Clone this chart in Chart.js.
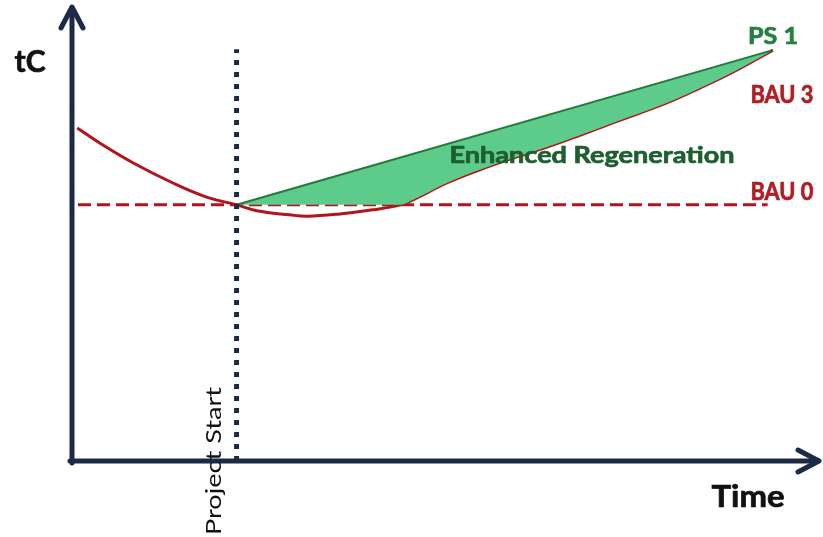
<!DOCTYPE html>
<html>
<head>
<meta charset="utf-8">
<script src="https://cdn.jsdelivr.net/npm/chart.js@4/dist/chart.umd.min.js"></script>
<style>
	html, body { margin: 0; padding: 0; background: #fff; }
	canvas { display: block; }
</style>
</head>
<body>
<canvas id="tcChart" width="823" height="537"></canvas>
<script>
// values (time 0..100, tC 0..100)
const bau3Time = [0.7, 3.7, 8.2, 13.5, 18, 22, 24.7, 29.1, 31.4, 35.8, 40.2, 43.9, 45.6, 50.1, 54.5, 59, 63.5, 67.9, 72.3, 79.5, 84, 88.4, 93.7];
const bau3Carbon = [73.2, 69.9, 65.5, 61.1, 58, 56.3, 55, 54.1, 53.8, 54.3, 55.2, 56.3, 57.4, 61.1, 64, 66.6, 69, 71.6, 74.3, 78.7, 82, 85.5, 90.3];
const bau0Time = [0.8, 93];
const bau0Carbon = 56.3;
const ps1Time = [22, 93.7];
const ps1Carbon = [56.3, 90.3];
const projectStart = 22;
const projectStartTop = 90.5;

const NAVY = '#1b2a47';
const RED = '#b3141c';
const GREEN_LINE = '#237a3d';
const GREEN_FILL = '#5ccb8b';

document.addEventListener("DOMContentLoaded", function() {
	drawCarbonChart();
});

function drawCarbonChart(){
	const canvas = document.getElementById('tcChart');
	const ctx = canvas.getContext('2d');

	const bau3 = bau3Time.map((t, i) => ({x: t, y: bau3Carbon[i]}));
	// lower edge of the green area: whichever BAU is higher after project start
	const lower = bau3.filter(p => p.x >= projectStart).map(p => ({x: p.x, y: Math.max(p.y, bau0Carbon)}));

	//axes with arrow heads + labels
	const decorations = {
		id: 'decorations',
		afterDatasetsDraw(chart) {
			const c = chart.ctx;
			const xs = chart.scales.x, ys = chart.scales.y;
			const ox = xs.getPixelForValue(0), oy = ys.getPixelForValue(0);
			const top = chart.chartArea.top, right = chart.chartArea.right;

			c.save();
			c.strokeStyle = NAVY;
			c.lineWidth = 5;
			c.lineCap = 'round';
			c.lineJoin = 'round';
			c.beginPath();
			c.moveTo(ox, oy + 2);
			c.lineTo(ox, top + 2);
			c.moveTo(ox - 2, oy);
			c.lineTo(right - 2, oy);
			c.stroke();
			// arrow heads
			c.beginPath();
			c.moveTo(ox - 11, top + 22);
			c.lineTo(ox, top + 1);
			c.lineTo(ox + 11, top + 22);
			c.moveTo(right - 22, oy - 11);
			c.lineTo(right - 1, oy);
			c.lineTo(right - 22, oy + 11);
			c.stroke();
			c.restore();

			// text squeezed to the width it has in the picture
			const label = (text, x, y, weight, size, w, color, angle) => {
				c.save();
				c.translate(x, y);
				if (angle) c.rotate(angle);
				c.font = weight + ' ' + size + 'px Lato';
				c.scale(w / c.measureText(text).width, 1);
				c.textAlign = 'center';
				c.textBaseline = 'middle';
				c.fillStyle = color;
				c.fillText(text, 0, 0);
				if (weight === 'bold') {
					c.strokeStyle = color;
					c.lineWidth = 0.7;
					c.strokeText(text, 0, 0);
				}
				c.restore();
			};
			label('tC', 30, 62, 'bold', 30, 31, '#111');
			label('Time', 748, 497, 'bold', 30, 73, '#111');
			label('PS 1', 773, 37, 'bold', 23, 50, '#25803f');
			label('BAU 3', 782, 95, 'bold', 24, 63, '#b01d24');
			label('BAU 0', 782, 192, 'bold', 24, 63, '#b01d24');
			label('Enhanced Regeneration', 592, 156, 'bold', 23, 285, '#1e5e30');
			label('Project Start', 214, 461, 'normal', 21, 148, '#111', -Math.PI / 2);
		}
	};

	new Chart(ctx, {
		type: 'line',
		data: {
			datasets: [
				{
					label: 'BAU 0',
					data: bau0Time.map(t => ({x: t, y: bau0Carbon})),
					borderColor: RED,
					borderWidth: 3,
					borderDash: [13, 6],
					pointRadius: 0,
					fill: false,
					order: 4
				},
				{
					label: 'lower',
					data: lower,
					borderColor: 'transparent',
					borderWidth: 0,
					pointRadius: 0,
					cubicInterpolationMode: 'monotone',
					fill: false,
					order: 2
				},
				{
					label: 'BAU 3',
					data: bau3,
					borderColor: RED,
					borderWidth: 3,
					pointRadius: 0,
					tension: 0.4,
					fill: false,
					order: 3
				},
				{
					label: 'PS 1',
					data: ps1Time.map((t, i) => ({x: t, y: ps1Carbon[i]})),
					borderColor: GREEN_LINE,
					borderWidth: 2,
					backgroundColor: GREEN_FILL,
					pointRadius: 0,
					fill: 1,
					order: 1
				},
				{
					label: 'Project Start',
					data: [{x: projectStart, y: 0}, {x: projectStart, y: projectStartTop}],
					borderColor: NAVY,
					borderWidth: 5,
					borderDash: [5, 7],
					borderCapStyle: 'butt',
					pointRadius: 0,
					fill: false,
					order: 0
				}
			]
		},
		options: {
			responsive: false,
			devicePixelRatio: 1,
			animation: false,
			layout: { padding: { left: 72, right: 3, top: 6, bottom: 76 } },
			scales: {
				x: { type: 'linear', min: 0, max: 100, display: false },
				y: { type: 'linear', min: 0, max: 100, display: false }
			},
			plugins: {
				legend: { display: false },
				tooltip: { enabled: false }
			}
		},
		plugins: [decorations]
	});
}
</script>
</body>
</html>
